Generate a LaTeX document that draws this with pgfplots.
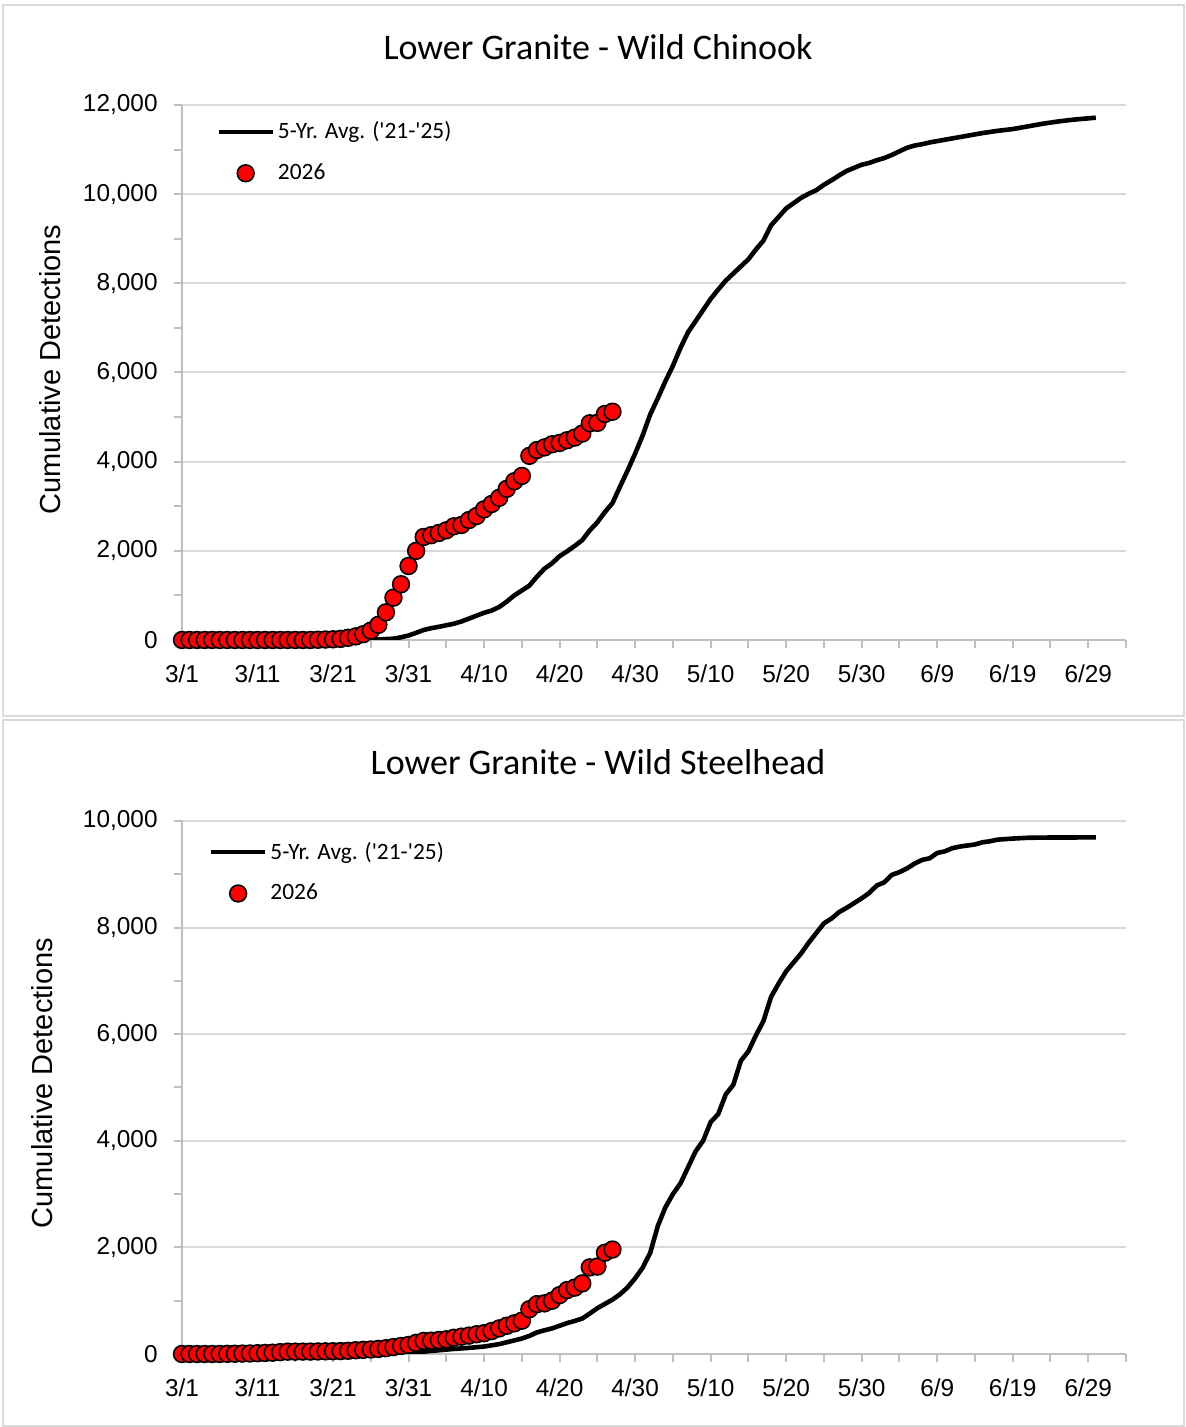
\documentclass[border=0pt]{standalone}
\usepackage{fontspec}
\setmainfont{Liberation Sans}
\newfontfamily\narrowfont{Carlito}
\usepackage{pgfplots}
\usepackage{pgfplotstable}
\pgfplotsset{compat=1.18}

\definecolor{gridgray}{HTML}{D9D9D9}
\definecolor{axisgray}{HTML}{BFBFBF}
\definecolor{framegray}{HTML}{D9D9D9}

% days after 3/1, cumulative detections
\pgfplotstableread{
day n
0 0
5 0
10 0
15 0
20 2
24 5
26 10
28 30
29 60
30 100
31 160
32 225
33 265
34 295
35 330
36 365
37 415
38 480
39 545
40 610
41 660
42 740
43 860
44 1000
45 1110
46 1220
47 1420
48 1600
49 1720
50 1880
51 1990
52 2110
53 2240
54 2460
55 2640
56 2870
57 3070
58 3440
59 3800
60 4180
61 4590
62 5060
63 5420
64 5800
65 6150
66 6550
67 6900
68 7150
69 7400
70 7650
71 7860
72 8060
73 8220
74 8380
75 8540
76 8760
77 8960
78 9300
79 9490
80 9680
81 9800
82 9920
83 10010
84 10090
85 10210
86 10310
87 10420
88 10520
89 10590
90 10660
91 10700
92 10760
93 10810
94 10880
95 10960
96 11040
97 11090
98 11120
99 11160
100 11190
102 11250
104 11310
106 11370
108 11420
110 11460
112 11520
114 11580
116 11630
118 11670
120 11700
121 11715
}\chinookavg

\pgfplotstableread{
day n
0 0
1 0
2 0
3 0
4 0
5 0
6 0
7 0
8 0
9 0
10 0
11 0
12 0
13 0
14 0
15 0
16 0
17 0
18 5
19 10
20 15
21 25
22 50
23 80
24 130
25 210
26 340
27 620
28 950
29 1250
30 1660
31 2000
32 2310
33 2350
34 2400
35 2460
36 2550
37 2580
38 2690
39 2780
40 2930
41 3050
42 3190
43 3390
44 3560
45 3680
46 4130
47 4260
48 4320
49 4390
50 4420
51 4480
52 4540
53 4630
54 4860
55 4870
56 5070
57 5120
}\chinookcur

\pgfplotstableread{
day n
0 0
10 0
20 0
22 5
25 12
28 25
30 35
32 45
34 70
36 95
38 115
40 140
42 185
43 220
44 255
45 290
46 340
47 405
48 445
49 480
50 530
51 580
52 620
53 665
54 760
55 860
56 940
57 1020
58 1120
59 1250
60 1420
61 1620
62 1900
63 2400
64 2750
65 3000
66 3200
67 3500
68 3800
69 4000
70 4350
71 4500
72 4870
73 5050
74 5500
75 5680
76 5980
77 6250
78 6700
79 6950
80 7180
81 7350
82 7520
83 7720
84 7900
85 8080
86 8170
87 8290
88 8370
89 8460
90 8550
91 8650
92 8790
93 8850
94 8990
95 9040
96 9110
97 9200
98 9270
99 9300
100 9400
101 9430
102 9490
103 9520
104 9540
105 9560
106 9600
107 9620
108 9650
110 9670
112 9685
115 9690
121 9692
}\steelheadavg

\pgfplotstableread{
day n
0 0
1 0
2 0
3 0
4 0
5 0
6 3
7 5
8 8
9 10
10 15
11 20
12 25
13 35
14 44
15 44
16 45
17 45
18 48
19 50
20 52
21 55
22 60
23 70
24 78
25 85
26 95
27 108
28 130
29 150
30 170
31 210
32 245
33 250
34 262
35 275
36 305
37 325
38 345
39 370
40 390
41 430
42 480
43 530
44 575
45 625
46 840
47 935
48 950
49 1000
50 1105
51 1200
52 1245
53 1325
54 1625
55 1640
56 1900
57 1960
}\steelheadcur

\pgfplotsset{
  detections/.style={
    scale only axis, width=472pt,
    xmin=0, xmax=125, ymin=0,
    axis x line*=bottom, axis y line*=left,
    axis line style={draw=axisgray, line width=1pt, -},
    xtick={0,10,...,120},
    xticklabels={3/1,3/11,3/21,3/31,4/10,4/20,4/30,5/10,5/20,5/30,6/9,6/19,6/29},
    minor xtick={5,15,...,125},
    ytick distance=2000, minor y tick num=1,
    ymajorgrids, major grid style={draw=gridgray, line width=1pt},
    tick align=outside, major tick length=4pt, minor tick length=4pt,
    every tick/.style={draw=axisgray, line width=1pt},
    minor tick style={draw=axisgray, line width=1pt},
    scaled y ticks=false,
    /pgf/number format/1000 sep={,},
    /pgf/number format/assume math mode=true,
    tick label style={font=\fontsize{12.2}{15}\selectfont},
    yticklabel style={inner sep=0pt, anchor=east},
    xticklabel style={inner sep=0pt, anchor=north},
    yticklabel shift=8pt,
    xticklabel shift=8pt,
    ylabel={Cumulative Detections},
    ylabel style={font=\fontsize{14.5}{17}\selectfont, anchor=center},
    title style={font=\narrowfont\fontsize{18}{22}\selectfont, anchor=center},
    legend style={draw=none, fill=none, anchor=north west, inner sep=0pt,
      font=\narrowfont\fontsize{11.7}{14}\selectfont, row sep=8pt,
      nodes={inner sep=1.5pt}},
    legend cell align=left,
  },
  avgline/.style={black, line width=2.3pt, line join=round,
    legend image code/.code={\draw[black, line width=2.3pt] (0pt,0pt) -- (27pt,0pt);}},
  curmarks/.style={only marks, mark=*, mark size=4.2pt,
    mark options={fill=red, draw=black, line width=0.8pt},
    legend image code/.code={\draw[##1] plot coordinates {(13.5pt,0pt)};}},
}

\begin{document}
\begin{tikzpicture}
\path[use as bounding box] (0,0) rectangle (592.5pt,713.5pt);

\begin{axis}[detections,
  at={(91pt,393.5pt)}, anchor=south west, height=267.5pt,
  ymax=12000,
  title={Lower Granite - Wild Chinook},
  title style={at={(axis description cs:0.4407,1.086)}},
  ylabel style={at={(axis description cs:-0.14,0.505)}},
  legend style={at={(axis description cs:0.036,0.975)}},
]
\addplot[avgline] table[x=day, y=n] {\chinookavg};
\addlegendentry{5-Yr. Avg. ('21-'25)}
\addplot[curmarks] table[x=day, y=n] {\chinookcur};
\addlegendentry{2026}
\end{axis}

\begin{axis}[detections,
  at={(91pt,36.5pt)}, anchor=south west, height=266.5pt,
  ymax=10000,
  title={Lower Granite - Wild Steelhead},
  title style={at={(axis description cs:0.4407,1.088)}},
  ylabel style={at={(axis description cs:-0.148,0.508)}},
  legend style={at={(axis description cs:0.028,0.967)}},
]
\addplot[avgline] table[x=day, y=n] {\steelheadavg};
\addlegendentry{5-Yr. Avg. ('21-'25)}
\addplot[curmarks] table[x=day, y=n] {\steelheadcur};
\addlegendentry{2026}
\end{axis}

\draw[framegray, line width=1pt] (1.5pt,711pt) rectangle (592pt,355.5pt);
\draw[framegray, line width=1pt] (1.5pt,353.5pt) rectangle (592pt,0.5pt);
\end{tikzpicture}
\end{document}
